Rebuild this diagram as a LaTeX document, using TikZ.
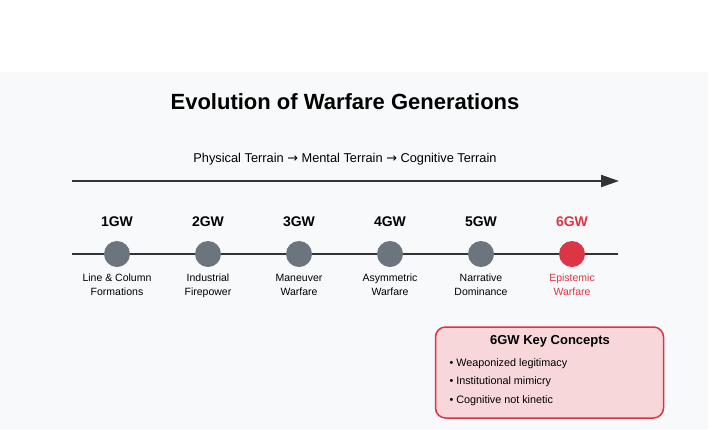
\documentclass[tikz,border=0pt]{standalone}
\usepackage{fontspec}
\setmainfont{Liberation Sans}
\newfontfamily\arrfont{DejaVu Sans}
\usetikzlibrary{arrows.meta}
\definecolor{bgc}{HTML}{F8F9FA}
\definecolor{linec}{HTML}{333333}
\definecolor{grayc}{HTML}{6C757D}
\definecolor{redc}{HTML}{DC3545}
\definecolor{pinkc}{HTML}{F8D7DA}
\newcommand{\rarr}{{\arrfont →}}
\tikzset{
  gen/.style={font=\fontsize{14}{16}\selectfont\bfseries, anchor=center},
  desc/.style={font=\fontsize{10.5}{14}\selectfont, align=center, anchor=north},
  dot/.style={circle, fill=grayc, minimum size=26pt, inner sep=0pt},
  reddot/.style={circle, fill=redc, minimum size=26pt, inner sep=0pt},
  bullet/.style={font=\fontsize{10.8}{12}\selectfont, anchor=west},
  axis/.style={draw=linec, line width=2pt},
}
\begin{document}
\begin{tikzpicture}[x=1pt,y=-1pt]
\useasboundingbox (0,0) rectangle (712,429);
\fill[white] (0,0) rectangle (712,429);
\fill[bgc] (0,72) rectangle (708,429);
\node[font=\fontsize{22}{26}\selectfont\bfseries] (title) at (345,102) {Evolution of Warfare Generations};
\node[font=\fontsize{12.8}{14}\selectfont] (sub) at (345,159) {Physical Terrain \rarr{} Mental Terrain \rarr{} Cognitive Terrain};
\coordinate (a0) at (72,181);
\coordinate (a1) at (619,181);
\draw[axis, -{Triangle[length=18pt,width=12pt]}] (a0) -- (a1);
\coordinate (t0) at (72,254);
\coordinate (t1) at (618,254);
\draw[axis] (t0) -- (t1);
\foreach \i/\x/\la/\lb in {1/117/Line \& Column/Formations, 2/208/Industrial/Firepower, 3/299/Maneuver/Warfare, 4/390/Asymmetric/Warfare, 5/481/Narrative/Dominance}{
  \node[dot] (c\i) at (\x,254) {};
  \node[gen] (g\i) at (\x,222) {\i GW};
  \node[desc] (d\i) at (\x,268) {\strut\la\\\lb};
}
\node[reddot] (c6) at (572,254) {};
\node[gen, text=redc] (g6) at (572,222) {6GW};
\node[desc, text=redc] (d6) at (572,268) {\strut Epistemic\\Warfare};
\node[draw=redc, fill=pinkc, line width=1.5pt, rounded corners=10pt, minimum width=228pt, minimum height=91pt, inner sep=0pt] (box) at (549.5,372.5) {};
\node[font=\fontsize{13}{15}\selectfont\bfseries] (bt) at (550,341) {6GW Key Concepts};
\node[bullet] (b1) at (446,364) {• Weaponized legitimacy};
\node[bullet] (b2) at (446,382) {• Institutional mimicry};
\node[bullet] (b3) at (446,401) {• Cognitive not kinetic};
\end{tikzpicture}
\end{document}
